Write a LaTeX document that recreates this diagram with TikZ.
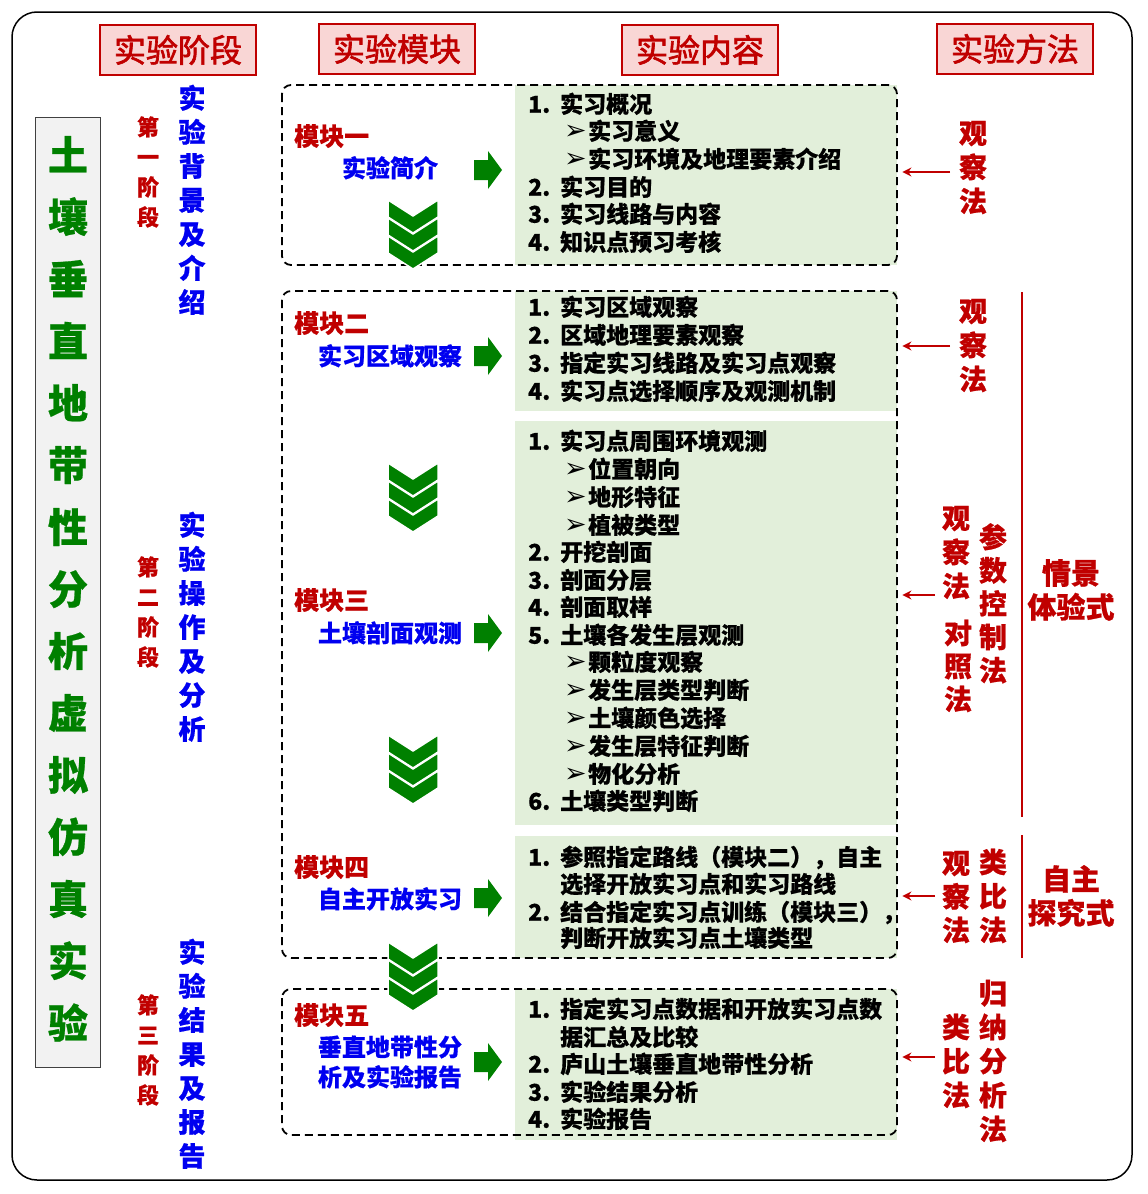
\documentclass[tikz,border=0pt]{standalone}
\usepackage{fontspec}
\setmainfont{Noto Sans CJK SC}[BoldFeatures={FakeBold=0.6}]
\newfontfamily\dv{DejaVu Sans}
\newfontfamily\hdrf{Noto Sans CJK SC}[FakeBold=2]
\usetikzlibrary{arrows.meta}
\definecolor{dred}{HTML}{C00000}
\definecolor{dblue}{HTML}{0000F0}
\definecolor{dgreen}{HTML}{008000}
\definecolor{lgreen}{HTML}{E2EFDA}
\definecolor{lpink}{HTML}{F9D6D5}
\definecolor{lgray}{HTML}{F2F2F2}
\newcommand\VText[6]{\foreach \c [count=\i from 0] in {#6} {\node[#5] (#1\i) at (#2,{#3+#4*\i}) {\c};}}
\newcommand\ItemLine[4]{\node[item] (#1) at (528,#2) {\makebox[32pt][l]{#3}#4};}
\newcommand\SubLine[3]{\node[item] (#1) at (564,#2) {\makebox[24pt][l]{\dv\fontsize{27}{27}\selectfont\raisebox{0pt}{➢}}#3};}
\newcommand\ContLine[3]{\node[item] (#1) at (560,#2) {#3};}
\newcommand\GArrow[2]{\fill[dgreen] (#1,#2) ++(0,-10) -- ++(14,0) -- ++(0,-9) -- ++(14,19) -- ++(-14,19) -- ++(0,-9) -- ++(-14,0) -- cycle;}
\newcommand\Chev[2]{\foreach \k in {0,1,2}{\filldraw[fill=dgreen, draw=white, line width=1.5pt] ({#1-25},{#2+18*\k}) -- (#1,{#2+18*\k+16}) -- ({#1+25},{#2+18*\k}) -- ({#1+25},{#2+18*\k+17}) -- (#1,{#2+18*\k+33}) -- ({#1-25},{#2+18*\k+17}) -- cycle;}}
\begin{document}
\begin{tikzpicture}[x=1pt,y=-1pt,
  T/.style={inner sep=0pt},
  item/.style={T, anchor=west, text height=20.2pt, text depth=2.8pt, font=\fontsize{23}{23}\selectfont\bfseries, text=black},
  hdr/.style={draw=dred, line width=1.2pt, fill=lpink, minimum width=156pt, minimum height=50pt, inner sep=0pt, text height=28.2pt, text depth=3.8pt, text=dred, font=\hdrf\fontsize{32}{32}\selectfont},
  ttl/.style={T, text height=35.2pt, text depth=4.8pt, text=dgreen, font=\fontsize{40}{40}\selectfont\bfseries},
  stg/.style={T, text height=19.36pt, text depth=2.64pt, text=dred, font=\fontsize{22}{22}\selectfont\bfseries},
  stb/.style={T, text height=23.76pt, text depth=3.24pt, text=dblue, font=\fontsize{27}{27}\selectfont\bfseries},
  mth/.style={T, text height=24.64pt, text depth=3.36pt, text=dred, font=\fontsize{28}{28}\selectfont\bfseries},
  mthb/.style={T, text height=25.52pt, text depth=3.48pt, text=dred, font=\fontsize{29}{29}\selectfont\bfseries},
  modr/.style={T, anchor=west, text height=22pt, text depth=3pt, text=dred, font=\fontsize{25}{25}\selectfont\bfseries},
  modb/.style={T, text height=21.1pt, text depth=2.9pt, text=dblue, font=\fontsize{24}{24}\selectfont\bfseries},
  gbox/.style={fill=lgreen, draw=none, anchor=north west, inner sep=0pt},
  dbox/.style={draw=black, line width=1.8pt, dash pattern=on 8pt off 5pt, rounded corners=9pt},
  redarr/.style={draw=dred, line width=2pt, -{Stealth[length=9pt,width=9pt]}, shorten >=5pt},
  redline/.style={draw=dred, line width=2pt}]
\useasboundingbox (0,0) rectangle (1148,1194);
% outer frame
\draw[line width=1.5pt, rounded corners=25pt] (12,12) rectangle (1132,1180);
% headers
\node[hdr] (h1) at (178,50) {实验阶段};
\node[hdr] (h2) at (397,49) {实验模块};
\node[hdr] (h3) at (700,50) {实验内容};
\node[hdr] (h4) at (1015,49) {实验方法};
% title box
\node[draw=black!75, line width=1pt, fill=lgray, minimum width=65pt, minimum height=950pt, inner sep=0pt, anchor=north west] (tbox) at (35,117) {};
\VText{t}{68}{155}{62}{ttl}{土,壤,垂,直,地,带,性,分,析,虚,拟,仿,真,实,验}
% stages
\VText{sa}{148}{127}{30}{stg}{第,一,阶,段}
\VText{sb}{148}{567}{30}{stg}{第,二,阶,段}
\VText{sc}{148}{1005}{30}{stg}{第,三,阶,段}
\VText{ba}{192}{98}{34}{stb}{实,验,背,景,及,介,绍}
\VText{bb}{192}{525}{34}{stb}{实,验,操,作,及,分,析}
\VText{bc}{192}{952}{34}{stb}{实,验,结,果,及,报,告}
% green content boxes
\node[gbox, minimum width=382pt, minimum height=180pt] (c1) at (515,85) {};
\node[gbox, minimum width=382pt, minimum height=120pt] (c2) at (515,291) {};
\node[gbox, minimum width=382pt, minimum height=404pt] (c3) at (515,421) {};
\node[gbox, minimum width=382pt, minimum height=122pt] (c4) at (515,836) {};
\node[gbox, minimum width=382pt, minimum height=151pt] (c5) at (515,989) {};
% dashed module boxes
\draw[dbox] (282,85) rectangle (897,265);
\draw[dbox] (282,291) rectangle (897,958);
\draw[dbox] (282,989) rectangle (897,1135);
% content text
\ItemLine{c1a}{104}{1.}{实习概况}
\SubLine{c1b}{131}{实习意义}
\SubLine{c1c}{159}{实习环境及地理要素介绍}
\ItemLine{c1d}{187}{2.}{实习目的}
\ItemLine{c1e}{214}{3.}{实习线路与内容}
\ItemLine{c1f}{242}{4.}{知识点预习考核}
\ItemLine{c2a}{307}{1.}{实习区域观察}
\ItemLine{c2b}{335}{2.}{区域地理要素观察}
\ItemLine{c2c}{363}{3.}{指定实习线路及实习点观察}
\ItemLine{c2d}{391}{4.}{实习点选择顺序及观测机制}
\ItemLine{c3a}{441}{1.}{实习点周围环境观测}
\SubLine{c3b}{469}{位置朝向}
\SubLine{c3c}{497}{地形特征}
\SubLine{c3d}{525}{植被类型}
\ItemLine{c3e}{552}{2.}{开挖剖面}
\ItemLine{c3f}{580}{3.}{剖面分层}
\ItemLine{c3g}{607}{4.}{剖面取样}
\ItemLine{c3h}{635}{5.}{土壤各发生层观测}
\SubLine{c3i}{662}{颗粒度观察}
\SubLine{c3j}{690}{发生层类型判断}
\SubLine{c3k}{718}{土壤颜色选择}
\SubLine{c3l}{746}{发生层特征判断}
\SubLine{c3m}{774}{物化分析}
\ItemLine{c3n}{801}{6.}{土壤类型判断}
\ItemLine{c4a}{857}{1.}{参照指定路线（模块二），自主}
\ContLine{c4b}{884}{选择开放实习点和实习路线}
\ItemLine{c4c}{912}{2.}{结合指定实习点训练（模块三），}
\ContLine{c4d}{938}{判断开放实习点土壤类型}
\ItemLine{c5a}{1009}{1.}{指定实习点数据和开放实习点数}
\ContLine{c5b}{1037}{据汇总及比较}
\ItemLine{c5c}{1064}{2.}{庐山土壤垂直地带性分析}
\ItemLine{c5d}{1092}{3.}{实验结果分析}
\ItemLine{c5e}{1119}{4.}{实验报告}
% modules
\node[modr] (m1) at (294,136) {模块一};
\node[modr] (m2) at (294,323) {模块二};
\node[modr] (m3) at (294,600) {模块三};
\node[modr] (m4) at (294,867) {模块四};
\node[modr] (m5) at (294,1015) {模块五};
\node[modb] (n1) at (390,168) {实验简介};
\node[modb] (n2) at (390,356) {实习区域观察};
\node[modb] (n3) at (390,633) {土壤剖面观测};
\node[modb] (n4) at (390,899) {自主开放实习};
\node[modb] (n5a) at (390,1047) {垂直地带性分};
\node[modb] (n5b) at (390,1077) {析及实验报告};
\GArrow{474}{170}
\GArrow{474}{356}
\GArrow{474}{633}
\GArrow{474}{898}
\GArrow{474}{1062}
\Chev{413}{200}
\Chev{413}{463}
\Chev{413}{735}
\Chev{413}{942}
% methods
\VText{ma}{973}{133}{34}{mth}{观,察,法}
\VText{mb}{973}{311}{34}{mth}{观,察,法}
\VText{mc}{956}{518}{34}{mth}{观,察,法}
\VText{md}{958}{633}{33}{mth}{对,照,法}
\VText{me}{993}{537}{33.3}{mth}{参,数,控,制,法}
\VText{mf}{956}{863}{33.5}{mth}{观,察,法}
\VText{mg}{993}{862}{34}{mth}{类,比,法}
\VText{mh}{956}{1027}{34}{mth}{类,比,法}
\VText{mi}{993}{993}{34}{mth}{归,纳,分,析,法}
\coordinate (s1) at (950,172);
\coordinate (s2) at (950,346);
\coordinate (s3) at (935,595);
\coordinate (s4) at (935,896);
\coordinate (s5) at (935,1057);
\draw[redarr] (s1) -- (c1.east |- s1);
\draw[redarr] (s2) -- (c2.east |- s2);
\draw[redarr] (s3) -- (c3.east |- s3);
\draw[redarr] (s4) -- (c4.east |- s4);
\draw[redarr] (s5) -- (c5.east |- s5);
\coordinate (la) at (1022,292);
\coordinate (lb) at (1022,817);
\coordinate (lc) at (1022,835);
\coordinate (ld) at (1022,958);
\draw[redline] (la) -- (lb);
\draw[redline] (lc) -- (ld);
\node[mthb] (q1) at (1071,573) {情景};
\node[mthb] (q2) at (1071,607) {体验式};
\node[mthb] (q3) at (1071,879) {自主};
\node[mthb] (q4) at (1071,913) {探究式};
\end{tikzpicture}
\end{document}
